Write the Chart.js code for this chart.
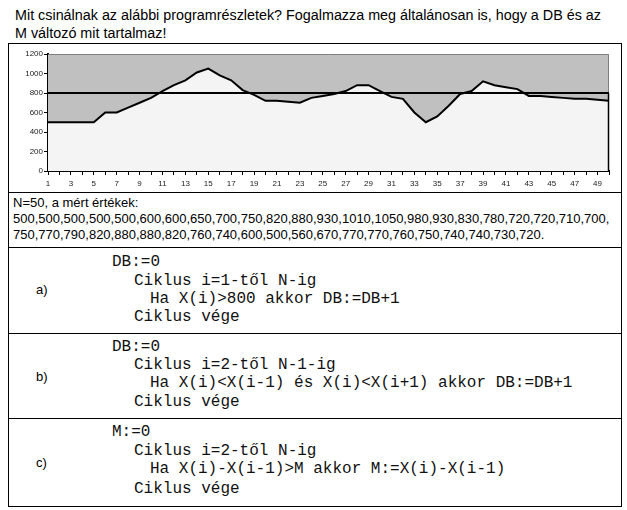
<!DOCTYPE html>
<html>
<head>
<meta charset="utf-8">
<script src="https://cdn.jsdelivr.net/npm/chart.js@4/dist/chart.umd.min.js"></script>
<style>
  html, body { margin:0; padding:0; background:#fff; }
  body { width:627px; height:510px; position:relative; overflow:hidden; font-family:"Liberation Sans", Arial, sans-serif; color:#000; }
  .abs { position:absolute; white-space:pre; }
  .hdr { font-size:14.35px; line-height:18px; }
  .vals { font-size:13px; line-height:16px; }
  .code { font-family:"Liberation Mono", "Courier New", monospace; font-size:16px; line-height:18px; color:#111; }
  .lbl { font-size:13px; line-height:18px; }
  .box { position:absolute; border:1px solid #000; box-sizing:border-box; }
  .hline { position:absolute; left:8px; width:613px; height:1px; background:#000; }
  #chartWrap { position:absolute; left:9px; top:44px; width:611px; height:148px; }
</style>
</head>
<body>
<div class="abs hdr" style="left:15px; top:6px;">Mit csinálnak az alábbi programrészletek? Fogalmazza meg általánosan is, hogy a DB és az</div>
<div class="abs hdr" style="left:15px; top:24px;">M változó mit tartalmaz!</div>

<div class="box" style="left:8px; top:43px; width:614px; height:464px;"></div>
<div class="hline" style="top:192px;"></div>
<div class="hline" style="top:247px;"></div>
<div class="hline" style="top:333px;"></div>
<div class="hline" style="top:418px;"></div>

<div id="chartWrap"><canvas id="c"></canvas></div>

<div class="abs vals" style="left:13px; top:195px;">N=50, a mért értékek:</div>
<div class="abs vals" id="vals1" style="left:13px; top:211px;"></div>
<div class="abs vals" id="vals2" style="left:13px; top:227px;"></div>

<div class="abs lbl" style="left:36px; top:281px;">a)</div>
<div class="abs code" style="left:112px; top:253px;">DB:=0</div>
<div class="abs code" style="left:134px; top:272px;">Ciklus i=1-től N-ig</div>
<div class="abs code" style="left:150px; top:290px;">Ha X(i)&gt;800 akkor DB:=DB+1</div>
<div class="abs code" style="left:134px; top:308px;">Ciklus vége</div>

<div class="abs lbl" style="left:36px; top:368px;">b)</div>
<div class="abs code" style="left:112px; top:338px;">DB:=0</div>
<div class="abs code" style="left:134px; top:356px;">Ciklus i=2-től N-1-ig</div>
<div class="abs code" style="left:150px; top:374px;">Ha X(i)&lt;X(i-1) és X(i)&lt;X(i+1) akkor DB:=DB+1</div>
<div class="abs code" style="left:134px; top:393px;">Ciklus vége</div>

<div class="abs lbl" style="left:36px; top:454px;">c)</div>
<div class="abs code" style="left:112px; top:423px;">M:=0</div>
<div class="abs code" style="left:134px; top:442px;">Ciklus i=2-től N-ig</div>
<div class="abs code" style="left:150px; top:460px;">Ha X(i)-X(i-1)&gt;M akkor M:=X(i)-X(i-1)</div>
<div class="abs code" style="left:134px; top:480px;">Ciklus vége</div>

<script>
// ---- data ----
const categories = [1,2,3,4,5,6,7,8,9,10,11,12,13,14,15,16,17,18,19,20,21,22,23,24,25,26,27,28,29,30,31,32,33,34,35,36,37,38,39,40,41,42,43,44,45,46,47,48,49,50];
// values as plotted in the chart (50 points)
const chartValues = [500,500,500,500,500,600,600,650,700,750,820,880,930,1010,1050,980,930,830,780,720,
                     720,710,700,750,770,790,820,880,880,820,760,740,600,500,560,670,790,820,920,880,
                     860,840,770,770,760,750,740,740,730,720];
const yTicks = [0,200,400,600,800,1000,1200];
const threshold = 800;

// values as printed in the text below the chart
const printedLine1 = [500,500,500,500,500,600,600,650,700,750,820,880,930,1010,1050,980,930,830,780,720,720,710,700];
const printedLine2 = [750,770,790,820,880,880,820,760,740,600,500,560,670,770,770,760,750,740,740,730,720];
document.getElementById('vals1').textContent = printedLine1.join(',') + ',';
document.getElementById('vals2').textContent = printedLine2.join(',') + '.';

const bgPlugin = {
  id: 'plotBg',
  beforeDatasetsDraw(chart) {
    const {ctx, chartArea:a} = chart;
    ctx.save();
    ctx.fillStyle = '#c0c0c0';
    ctx.fillRect(a.left, a.top, a.right - a.left, a.bottom - a.top);
    ctx.restore();
  },
  afterDatasetsDraw(chart) {
    const {ctx, chartArea:a, scales} = chart;
    const y = scales.y.getPixelForValue(threshold);
    ctx.save();
    ctx.strokeStyle = '#808080';
    ctx.lineWidth = 1;
    ctx.beginPath();
    ctx.moveTo(a.left, a.top + 0.5);
    ctx.lineTo(a.right - 0.5, a.top + 0.5);
    ctx.lineTo(a.right - 0.5, y);
    ctx.stroke();
    ctx.strokeStyle = '#000';
    ctx.lineWidth = 1.5;
    ctx.beginPath();
    ctx.moveTo(a.right - 0.5, y);
    ctx.lineTo(a.right - 0.5, a.bottom);
    ctx.stroke();
    ctx.lineWidth = 2;
    ctx.beginPath();
    ctx.moveTo(a.left, y);
    ctx.lineTo(a.right, y);
    ctx.stroke();
    ctx.restore();
  }
};

new Chart(document.getElementById('c'), {
  type: 'line',
  data: {
    labels: categories,
    datasets: [{
      data: chartValues,
      borderColor: '#000',
      borderWidth: 2,
      backgroundColor: '#f4f4f4',
      fill: 'origin',
      pointRadius: 0,
      tension: 0
    }]
  },
  plugins: [bgPlugin],
  options: {
    responsive: true,
    maintainAspectRatio: false,
    animation: false,
    layout: { padding: { left: 0, top: 10, right: 11, bottom: 0 } },
    plugins: { legend: { display: false }, tooltip: { enabled: false } },
    scales: {
      x: {
        type: 'category',
        offset: false,
        grid: { display: true, drawOnChartArea: false, drawTicks: true, tickLength: 4, color: '#000', offset: false },
        border: { display: true, color: '#000', width: 2 },
        ticks: {
          autoSkip: false, maxRotation: 0, minRotation: 0, padding: 4,
          font: { family: 'Liberation Sans, Arial', size: 8 }, color: '#222',
          callback: function(v, i) { return i % 2 === 0 ? String(this.getLabelForValue(v)) : ''; }
        },
        afterFit(s) { s.height = 21; }
      },
      y: {
        min: 0, max: 1200,
        afterBuildTicks(s) { s.ticks = yTicks.map(v => ({ value: v })); },
        grid: { display: true, drawOnChartArea: false, drawTicks: true, tickLength: 4, color: '#000' },
        border: { display: true, color: '#000', width: 2 },
        ticks: { padding: 1, font: { family: 'Liberation Sans, Arial', size: 8 }, color: '#222',
                 callback: v => String(v) },
        afterFit(s) { s.width = 39; }
      }
    }
  }
});
</script>
</body>
</html>
